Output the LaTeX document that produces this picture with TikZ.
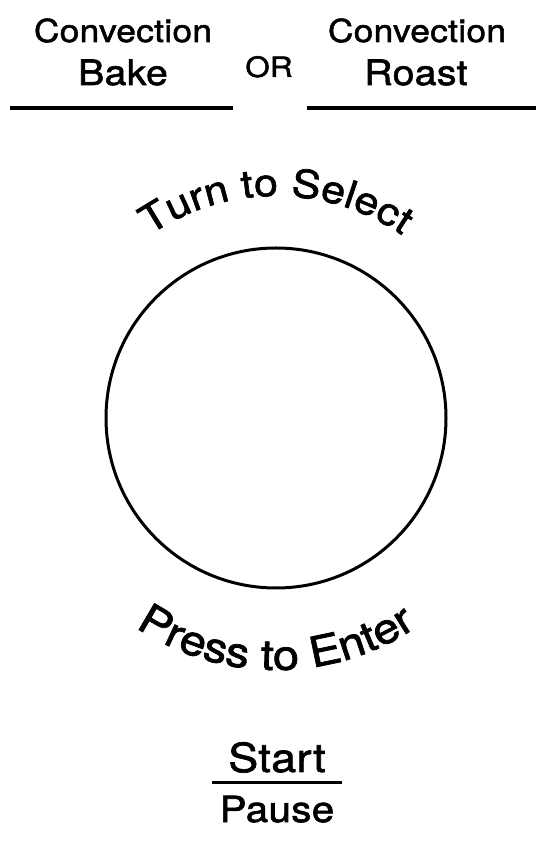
\documentclass[tikz,border=0pt]{standalone}
\usepackage{fontspec}
\setmainfont{TeX Gyre Heros}
\newfontfamily\hv[LetterSpace=1,FakeBold=1.7,FakeStretch=1.12]{TeX Gyre Heros}
\newfontfamily\hvc[FakeBold=1.7,FakeStretch=1.12]{TeX Gyre Heros}
\usetikzlibrary{decorations.text}
\begin{document}
\begin{tikzpicture}[x=1pt,y=1pt,
  lbl/.style={inner sep=0pt, anchor=base},
  rule/.style={line width=4pt},
  dial/.style={line width=3pt}]
\useasboundingbox (0,0) rectangle (536,841);
% top labels
\node[lbl, font={\hv\fontsize{31.5}{31.5}\selectfont}] (cl) at (123,799) {Convection};
\node[lbl, font={\hv\fontsize{35}{35}\selectfont}] (bake) at (123,756) {Bake};
\node[lbl, font={\hv\fontsize{28}{28}\selectfont}] (or) at (269,764) {OR};
\node[lbl, font={\hv\fontsize{31.5}{31.5}\selectfont}] (cr) at (417,799) {Convection};
\node[lbl, font={\hv\fontsize{35}{35}\selectfont}] (roast) at (416,756) {Roast};
\coordinate (l1a) at (10,733);
\coordinate (l1b) at (233,733);
\coordinate (l2a) at (307,733);
\coordinate (l2b) at (536,733);
\draw[rule] (l1a) -- (l1b);
\draw[rule] (l2a) -- (l2b);
% dial
\node[draw, dial, circle, minimum size=340pt, inner sep=0pt] (knob) at (276,423) {};
\path[decorate, decoration={text along path, text align=center,
  text={|\hvc\fontsize{38.5}{38.5}\selectfont|Turn to Select}}]
  (knob.center) ++(130:222pt) arc[start angle=130, end angle=50, radius=222pt];
\path[decorate, decoration={text along path, text align=center,
  text={|\hvc\fontsize{42}{42}\selectfont|Press to Enter}}]
  (knob.center) ++(230:252pt) arc[start angle=230, end angle=310, radius=252pt];
% start / pause
\node[lbl, font={\hv\fontsize{40}{40}\selectfont}] (start) at (277,69) {Start};
\node[lbl, font={\hv\fontsize{36}{36}\selectfont}] (pause) at (277,19) {Pause};
\coordinate (sa) at (212,58);
\coordinate (sb) at (342,58);
\draw[line width=3pt] (sa) -- (sb);
\end{tikzpicture}
\end{document}
